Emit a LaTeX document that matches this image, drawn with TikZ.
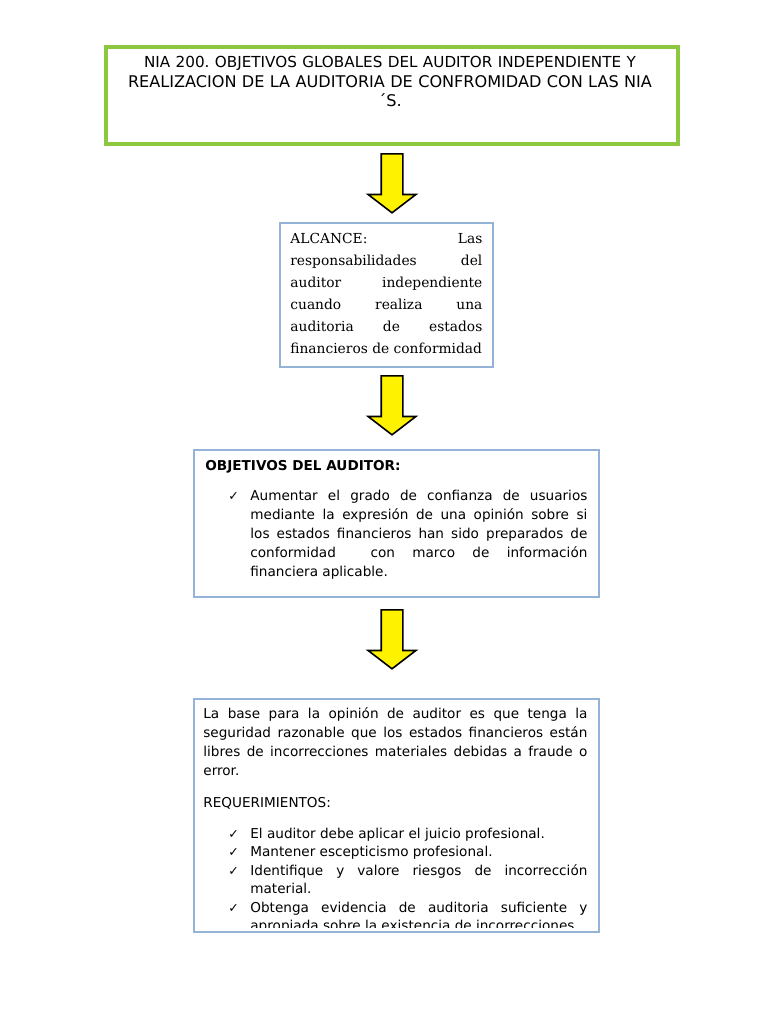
\documentclass[tikz,border=0pt]{standalone}
\usepackage{fontspec}
\setmainfont{DejaVu Sans}
\newfontfamily\alcancefont{DejaVu Serif}
\usetikzlibrary{shapes.arrows}

\definecolor{verdecaja}{RGB}{141,198,63}
\definecolor{azulcaja}{RGB}{149,179,215}

\tikzset{
  cajaverde/.style={rectangle, draw=verdecaja, line width=2pt, inner sep=0pt, anchor=north west},
  cajaazul/.style={rectangle, draw=azulcaja, line width=1.2pt, inner sep=0pt, anchor=north west},
  flecha/.style={single arrow, draw=black, fill=yellow, line width=0.8pt, inner sep=5pt,
    shape border rotate=270, minimum height=29.5pt,
    single arrow head extend=6.5pt, single arrow tip angle=105, anchor=tail},
  texto/.style={inner sep=0pt, anchor=base west, align=justify,
    font=\fontsize{6.8pt}{9.6pt}\selectfont},
  vineta/.style={inner sep=0pt, anchor=base west, font=\fontsize{6.3pt}{9pt}\selectfont},
}

\begin{document}
\frenchspacing
\begin{tikzpicture}[x=0.5pt, y=-0.5pt]
  \useasboundingbox[fill=white] (0,0) rectangle (768,1024);

  % --- Cajas ---
  \node[cajaverde, minimum width=286pt, minimum height=48.5pt] (caja1) at (104,45) {};
  \node[cajaazul, minimum width=106.5pt, minimum height=72pt] (caja2) at (279,222) {};
  \node[cajaazul, minimum width=202.5pt, minimum height=73.5pt] (caja3) at (193,449) {};
  \node[cajaazul, minimum width=202.5pt, minimum height=116.5pt] (caja4) at (193,698) {};

  % --- Flechas amarillas ---
  \node[flecha] (f1) at (392,153) {};
  \node[flecha] (f2) at (392,375) {};
  \node[flecha] (f3) at (392,609) {};

  % --- Titulo ---
  \node[inner sep=0pt, anchor=base, text width=286pt, align=center,
        font=\fontsize{8.05pt}{10pt}\selectfont] (titulo) at (390,67)
    {{\fontsize{7.6pt}{10pt}\selectfont NIA 200. OBJETIVOS GLOBALES DEL AUDITOR INDEPENDIENTE Y}\\
     REALIZACION DE LA AUDITORIA DE CONFROMIDAD CON LAS NIA\\[-0.5pt]
     ´S.};

  % --- Alcance ---
  \node[texto, text width=96pt, font=\alcancefont\fontsize{6.9pt}{11pt}\selectfont] (alcance) at (290,243)
    {\parfillskip=0pt ALCANCE: Las\linebreak responsabilidades del\linebreak auditor independiente\linebreak
     cuando realiza una\linebreak auditoria de estados\linebreak financieros de conformidad};

  % --- Objetivos ---
  \node[texto, anchor=base west] (objtit) at (205,470) {\textbf{OBJETIVOS DEL AUDITOR:}};
  \node[vineta] (chk1) at (228,500) {✓};
  \node[texto, text width=168.5pt] (obj) at (250,500)
    {Aumentar el grado de confianza de usuarios\linebreak mediante la expresión de una opinión sobre si\linebreak
     los estados financieros han sido preparados de\linebreak conformidad\ \ con marco de información\linebreak
     financiera aplicable.};

  % --- Base y requerimientos ---
  \node[texto, text width=192pt] (base) at (203,718)
    {La base para la opinión de auditor es que tenga la\linebreak seguridad razonable que los estados financieros están\linebreak
     libres de incorrecciones materiales debidas a fraude o\linebreak error.};
  \node[texto] (reqtit) at (203,807) {REQUERIMIENTOS:};

  \node[vineta] (chk2) at (228,838) {✓};
  \node[texto, text width=168.5pt] (req1) at (250,838) {El auditor debe aplicar el juicio profesional.};
  \node[vineta] (chk3) at (228,856) {✓};
  \node[texto, text width=168.5pt] (req2) at (250,856) {Mantener escepticismo profesional.};
  \node[vineta] (chk4) at (228,875) {✓};
  \node[texto, text width=168.5pt, font=\fontsize{6.8pt}{9.25pt}\selectfont] (req3) at (250,875)
    {Identifique y valore riesgos de incorrección\linebreak material.};
  \begin{scope}
    \clip (195,700) rectangle (596,927);
    \node[vineta] (chk5) at (228,912) {✓};
    \node[texto, text width=168.5pt, font=\fontsize{6.8pt}{9.25pt}\selectfont] (req4) at (250,912)
      {Obtenga evidencia de auditoria suficiente y\linebreak apropiada sobre la existencia de incorrecciones};
  \end{scope}
\end{tikzpicture}
\end{document}
